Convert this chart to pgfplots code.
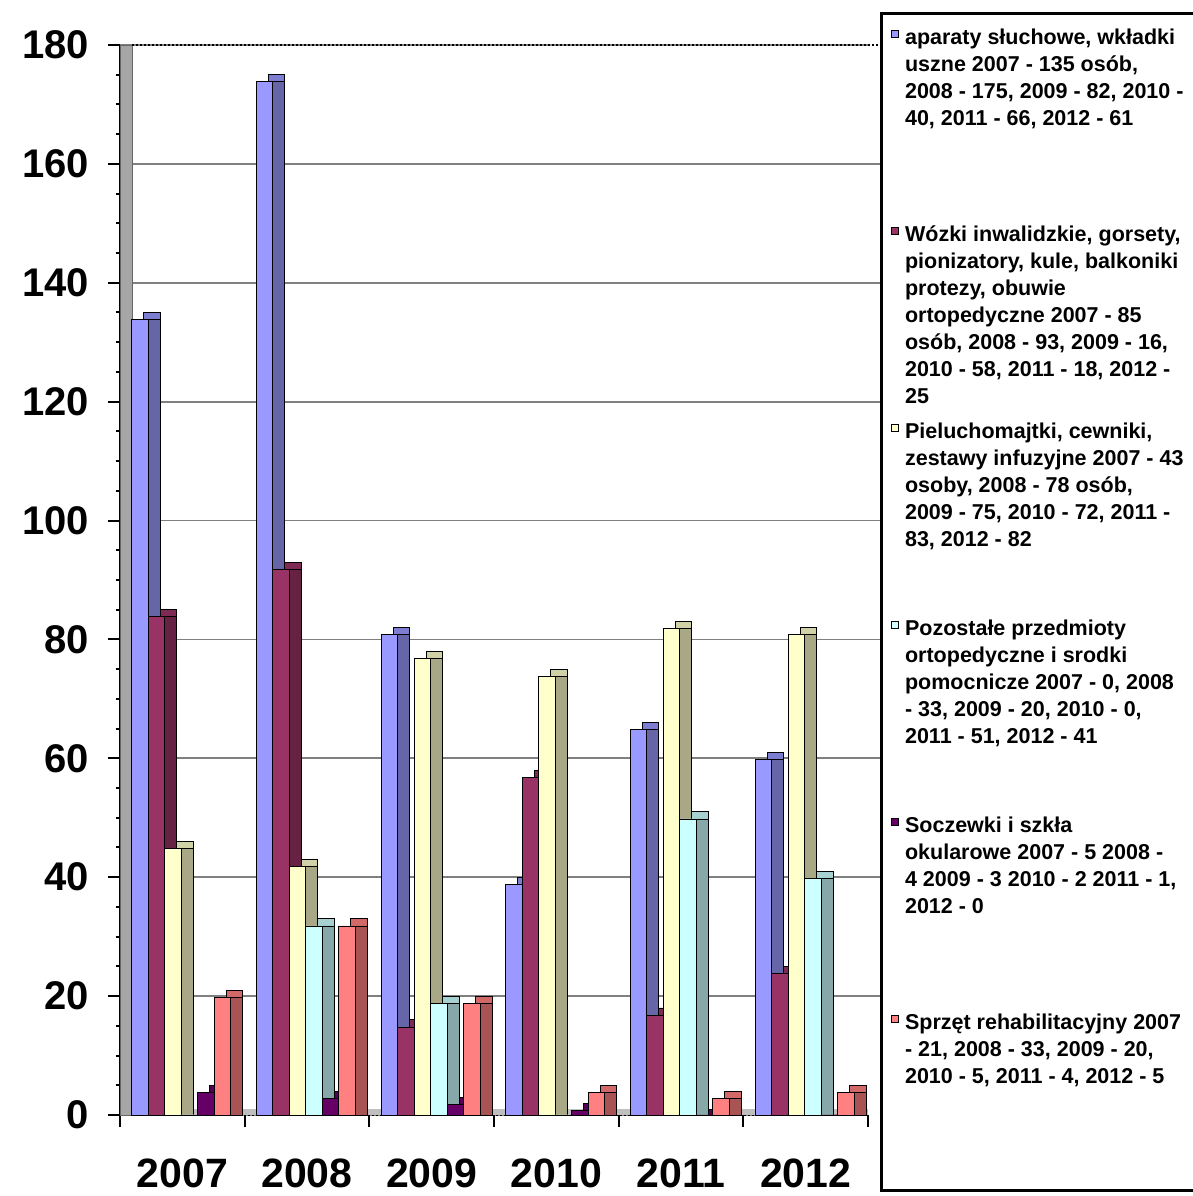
\documentclass[border=0pt]{standalone}
\usepackage{pgfplots}
\usepackage{pgfplotstable}
\pgfplotsset{compat=1.18}
\usepackage{fontspec}
\setmainfont{Liberation Sans}

% Excel 2003 palette, front / side / top faces
\definecolor{blueF}{HTML}{9999FF}
\definecolor{maroonF}{HTML}{993366}
\definecolor{yellowF}{HTML}{FFFFCC}
\definecolor{cyanF}{HTML}{CCFFFF}
\definecolor{purpleF}{HTML}{660066}
\definecolor{salmonF}{HTML}{FF8080}
\colorlet{blueS}{blueF!66!black}     \colorlet{blueT}{blueF!82!black}
\colorlet{maroonS}{maroonF!66!black} \colorlet{maroonT}{maroonF!82!black}
\colorlet{yellowS}{yellowF!66!black} \colorlet{yellowT}{yellowF!82!black}
\colorlet{cyanS}{cyanF!66!black}     \colorlet{cyanT}{cyanF!82!black}
\colorlet{purpleS}{purpleF!66!black} \colorlet{purpleT}{purpleF!82!black}
\colorlet{salmonS}{salmonF!66!black} \colorlet{salmonT}{salmonF!82!black}

% a = aparaty, b = wozki, c = pieluchomajtki, d = pozostale, e = soczewki, f = sprzet
\pgfplotstableread{
x  a    b   c   d   e   f
0  135  85  46  0   5   21
1  175  93  43  33  4   33
2  82   16  78  20  3   20
3  40   58  75  0   2   5
4  66   18  83  51  1   4
5  61   25  82  41  0   5
}\counts

\pgfplotsset{
  bar3d/.style 2 args={ybar, bar width=8.25pt, bar shift=#2, draw=black, line width=0.4pt, fill=#1},
  face/.style 2 args={bar3d={#1}{#2},
    legend image code/.code={\draw[fill=#1, draw=black, line width=0.5pt] (0pt,3.6pt) rectangle (3.3pt,6.9pt);}},
  back/.style 2 args={bar3d={#1}{#2}, forget plot},
}

% #1 column, #2 colour stem, #3 front shift, #4 depth shift, #5 legend text
\newcommand\series[5]{%
  \addplot[back={#2T}{#4}] table[x=x, y=#1] {\counts};
  \addplot[back={#2S}{#4}] table[x=x, y expr={max(\thisrow{#1}-1.2,0)}] {\counts};
  \addplot[face={#2F}{#3}] table[x=x, y expr={max(\thisrow{#1}-1.2,0)}] {\counts};
  \addlegendentry{#5}
}
\newcommand\entry[1]{\parbox[t]{145pt}{\strut #1}}

\begin{document}
\begin{tikzpicture}
\useasboundingbox (0,0) rectangle (596.5pt,598pt);
\begin{axis}[
  at={(60pt,40.5pt)}, anchor=south west,
  scale only axis, width=374pt, height=535pt,
  xmin=-0.5, xmax=5.5, ymin=0, ymax=180,
  axis x line*=bottom, axis y line*=left,
  xtick={-0.5,0.5,...,5.5},
  xticklabels={2007,2008,2009,2010,2011,2012},
  x tick label as interval,
  ytick={0,20,...,180},
  minor y tick num=3,
  tick align=outside,
  major tick length=6pt, minor tick length=2pt,
  every tick/.style={black, line width=1pt},
  ymajorgrids, major grid style={black!50, line width=0.9pt},
  /pgf/number format/assume math mode=true,
  yticklabel style={font=\bfseries\fontsize{20}{22}\selectfont, xshift=-6pt},
  xticklabel style={font=\bfseries\fontsize{20.5}{23}\selectfont, yshift=-12.5pt},
  y axis line style={line width=1pt},
  x axis line style={line width=1pt, densely dotted},
  clip=false,
  legend style={at={(1.01604,1.03084)}, anchor=north west, draw=black, line width=1.5pt,
    fill=white, inner xsep=5pt, inner ysep=6pt, row sep=14.5pt, column sep=3pt,
    font=\bfseries\fontsize{10.75}{13.5}\selectfont, cells={anchor=base west},
    nodes={inner sep=0pt, text height=9.5pt, text depth=74.5pt}},
]
% floor, left wall, grid run-out behind the legend and dotted top edge of the back wall
\fill[black!25] (axis cs:-0.5,0) rectangle ([yshift=3pt]axis cs:5.5,0);
\fill[black!35, draw=black!60, line width=0.4pt] (rel axis cs:0,0) rectangle ([xshift=6pt]rel axis cs:0,1);
\foreach \v in {20,40,...,160} {
  \edef\temp{\noexpand\draw[black!50, line width=0.9pt] (axis cs:5.5,\v) -- ([xshift=6pt]axis cs:5.5,\v);}
  \temp
}
\draw[densely dotted, line width=1pt] ([xshift=6pt]rel axis cs:0,1) -- ([xshift=6pt]rel axis cs:1,1);

\series{a}{blue}{-21.2pt}{-15.2pt}{\entry{aparaty słuchowe, wkładki\\ uszne 2007 - 135 osób,\\ 2008 - 175, 2009 - 82, 2010 -\\ 40, 2011 - 66, 2012 - 61}}
\series{b}{maroon}{-12.95pt}{-6.95pt}{\entry{Wózki inwalidzkie, gorsety,\\ pionizatory, kule, balkoniki\\ protezy, obuwie\\ ortopedyczne 2007 - 85\\ osób, 2008 - 93, 2009 - 16,\\ 2010 - 58, 2011 - 18, 2012 -\\ 25}}
\series{c}{yellow}{-4.7pt}{1.3pt}{\entry{Pieluchomajtki, cewniki,\\ zestawy infuzyjne 2007 - 43\\ osoby, 2008 - 78 osób,\\ 2009 - 75, 2010 - 72, 2011 -\\ 83, 2012 - 82}}
\series{d}{cyan}{3.55pt}{9.55pt}{\entry{Pozostałe przedmioty\\ ortopedyczne i srodki\\ pomocnicze 2007 - 0, 2008\\ - 33, 2009 - 20, 2010 - 0,\\ 2011 - 51, 2012 - 41}}
\series{e}{purple}{11.8pt}{17.8pt}{\entry{Soczewki i szkła\\ okularowe 2007 - 5 2008 -\\ 4 2009 - 3 2010 - 2 2011 - 1,\\ 2012 - 0}}
\series{f}{salmon}{20.05pt}{26.05pt}{\entry{Sprzęt rehabilitacyjny 2007\\ - 21, 2008 - 33, 2009 - 20,\\ 2010 - 5, 2011 - 4, 2012 - 5}}
\end{axis}
\end{tikzpicture}
\end{document}
